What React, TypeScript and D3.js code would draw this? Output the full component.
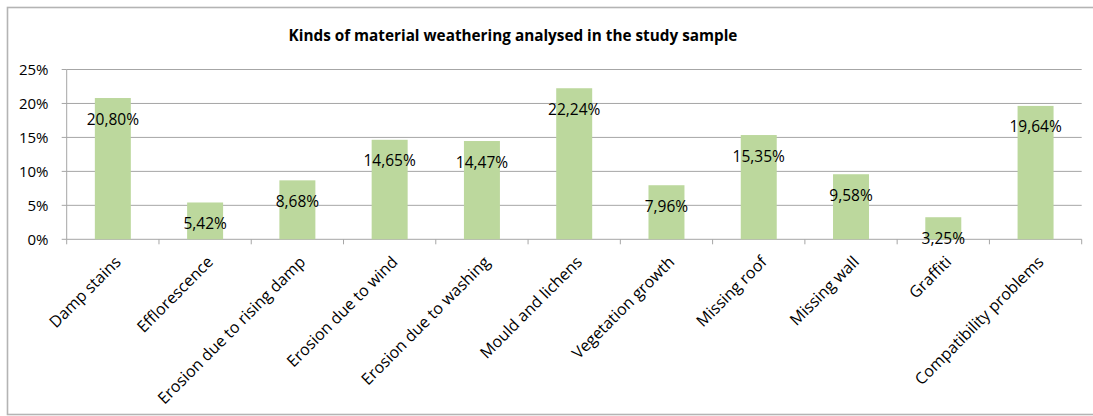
import React from "react";
import * as d3 from "d3";

const categories = [
  "Damp stains",
  "Efflorescence",
  "Erosion due to rising damp",
  "Erosion due to wind",
  "Erosion due to washing",
  "Mould and lichens",
  "Vegetation growth",
  "Missing roof",
  "Missing wall",
  "Graffiti",
  "Compatibility problems",
];
const values = [20.8, 5.42, 8.68, 14.65, 14.47, 22.24, 7.96, 15.35, 9.58, 3.25, 19.64];
const yTicks = [0, 5, 10, 15, 20, 25];
const title = "Kinds of material weathering analysed in the study sample";

const W = 1093;
const H = 416;
const left = 66.7;
const right = 1081.7;
const top = 69.5;
const bottom = 239.3;
const font = "'Open Sans', sans-serif";
const grid = "#A6A6A6";

export default function App() {
  const x = d3
    .scaleBand<string>()
    .domain(categories)
    .range([left, right])
    .paddingInner(0.61)
    .paddingOuter(0.305);
  const y = d3.scaleLinear().domain([0, 25]).range([bottom, top]);
  const step = x.step();
  const fmt = (v: number) => v.toFixed(2).replace(".", ",") + "%";

  return (
    <svg
      width={W}
      height={H}
      style={{ position: "absolute", left: 0, top: 0, background: "#fff" }}
      fontFamily={font}
    >
      <rect x={0} y={0} width={W} height={H} fill="#fff" />
      <rect x={7.5} y={7.5} width={W + 20} height={407} fill="none" stroke="#B4B4B4" strokeWidth={1.6} />
      <text x={513} y={40.5} textAnchor="middle" fontSize={15.3} fontWeight="bold" fill="#000">
        {title}
      </text>
      {yTicks.map((t) => (
        <g key={t}>
          {t > 0 && (
            <line x1={left} x2={right} y1={y(t)} y2={y(t)} stroke={grid} strokeWidth={1} />
          )}
          <line x1={left - 5} x2={left} y1={y(t)} y2={y(t)} stroke={grid} strokeWidth={1} />
          <text x={48.5} y={y(t)} dy="0.36em" textAnchor="end" fontSize={15} fill="#000">
            {t + "%"}
          </text>
        </g>
      ))}
      <line x1={left} x2={left} y1={top} y2={bottom} stroke={grid} strokeWidth={1} />
      <line x1={left} x2={right} y1={bottom} y2={bottom} stroke={grid} strokeWidth={1} />
      {d3.range(categories.length + 1).map((i) => (
        <line
          key={i}
          x1={left + i * step}
          x2={left + i * step}
          y1={bottom}
          y2={bottom + 5}
          stroke={grid}
          strokeWidth={1}
        />
      ))}
      {categories.map((c, i) => {
        const bx = x(c)!;
        const bw = x.bandwidth();
        const cx = bx + bw / 2;
        const v = values[i];
        return (
          <g key={c}>
            <rect x={bx} y={y(v)} width={bw} height={bottom - y(v)} fill="#BCD89D" />
            <text x={cx} y={y(v) + 21} dy="0.36em" textAnchor="middle" fontSize={15.5} fill="#000">
              {fmt(v)}
            </text>
            <text
              transform={`translate(${cx + 9},${263}) rotate(-45)`}
              textAnchor="end"
              fontSize={16}
              fill="#000"
            >
              {c}
            </text>
          </g>
        );
      })}
    </svg>
  );
}
